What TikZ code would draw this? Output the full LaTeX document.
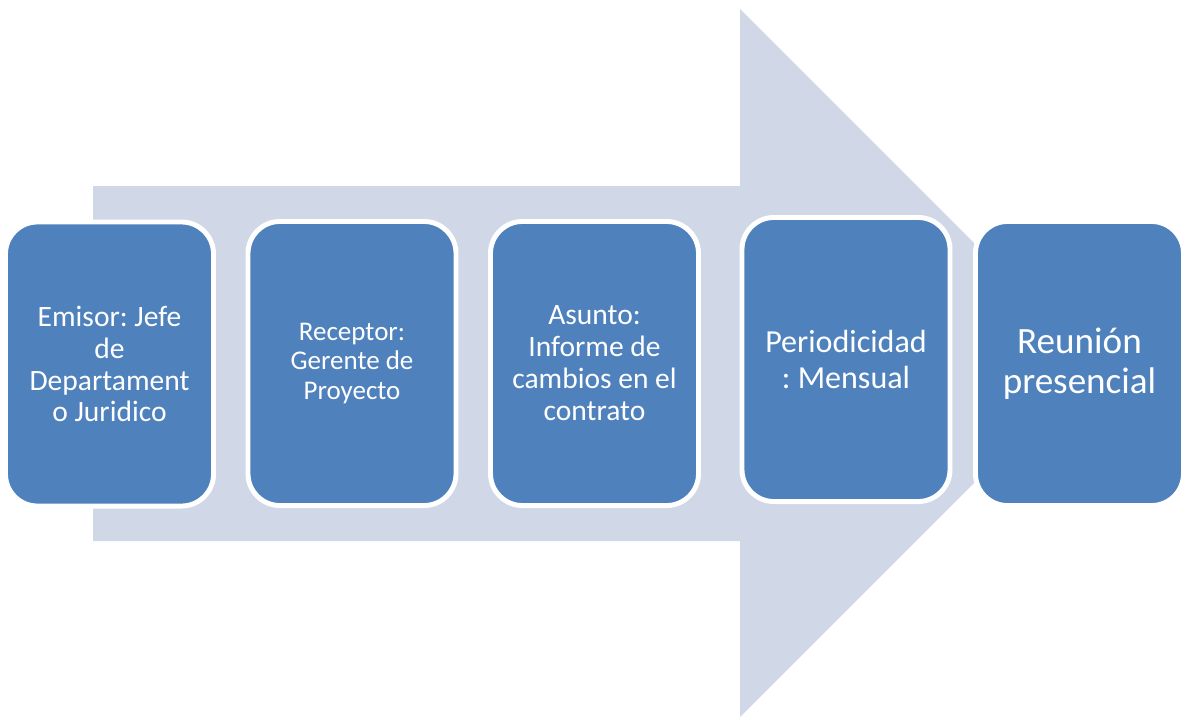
\documentclass[tikz,border=0pt]{standalone}
\usepackage{fontspec}
\setmainfont{Carlito}
\usepackage{xcolor}
\usetikzlibrary{positioning}
\definecolor{stepblue}{HTML}{4F81BD}
\definecolor{arrowgrey}{HTML}{D0D8E8}
\frenchspacing

\begin{document}
\begin{tikzpicture}[
      x=0.025cm, y=-0.025cm,
      stepbox/.style={draw=white, line width=3.5pt, fill=stepblue, rounded corners=0.8cm, minimum width=5.2cm, minimum height=7.1cm, align=center, text=white, inner sep=2pt},
      small/.style={font=\fontsize{19.2}{20.9}\selectfont},
      normal/.style={font=\fontsize{21}{22.7}\selectfont},
      large/.style={font=\fontsize{22.8}{25.5}\selectfont},
      huge/.style={font=\fontsize{26.4}{28.3}\selectfont}
  ]
    \useasboundingbox (0,0) rectangle (1186,717);
    \fill[arrowgrey] (93,186) -- (740,186) -- (740,9) -- (1094,363) -- (740,717) -- (740,541) -- (93,541) -- cycle;
    \node[stepbox, normal] (emisor) at (109.5,364) {Emisor: Jefe\\de\\Departament\\o Juridico};
    \node[stepbox, small] (receptor) at (352,363.5) {Receptor:\\Gerente de\\Proyecto};
    \node[stepbox, normal] (asunto) at (594.5,363.5) {Asunto:\\Informe de\\cambios en el\\contrato};
    \node[stepbox, large] (periodo) at (846,359.5) {Periodicidad\\: Mensual};
    \node[stepbox, huge] (medio) at (1079.5,363.5) {Reunión\\presencial};
  \end{tikzpicture}
\end{document}
